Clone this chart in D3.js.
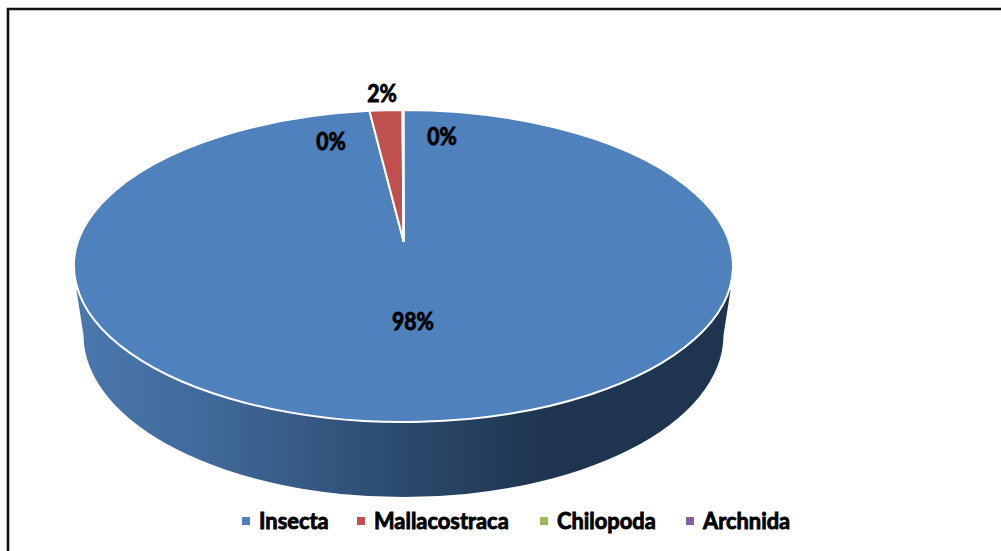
<!DOCTYPE html>
<html>
<head>
    <title>Pie chart</title>
    <script src="https://d3js.org/d3.v7.min.js"></script>
    <style>
        html, body { margin: 0; padding: 0; background: #fff; }
        svg { display: block; }
        text {
            font-family: Lato, "Open Sans", sans-serif;
            font-weight: 700;
            fill: #000;
            stroke: #000;
            stroke-width: 0.9px;
        }
    </style>
</head>
<body>
<div id="chart"></div>
<script>
    const categories = ['Insecta', 'Mallacostraca', 'Chilopoda', 'Archnida'];
    const shares = [98.35, 1.6, 0.025, 0.025];
    const labels = ['98%', '2%', '0%', '0%'];
    const colors = ['#4f81bd', '#c0504d', '#9bbb59', '#8064a2'];

    const width = 1001;
    const height = 551;

    // top face of the pie, the tip sits above the ellipse centre (perspective)
    const cx = 403.5, cy = 266, rx = 329.5, ry = 156;
    const tipY = 241;

    const svg = d3.select('#chart').append('svg')
        .attr('width', width)
        .attr('height', height);

    // frame, runs off the page right and bottom
    svg.append('path')
        .attr('d', `M8,${height}V9H${width}`)
        .attr('fill', 'none')
        .attr('stroke', '#111')
        .attr('stroke-width', 2.6);

    const gradient = svg.append('defs').append('linearGradient')
        .attr('id', 'sideFill')
        .attr('gradientUnits', 'userSpaceOnUse')
        .attr('x1', 77).attr('x2', 730)
        .attr('y1', 0).attr('y2', 0);
    [[0, '#4a78ad'], [0.2, '#40699a'], [0.5, '#2c4a6e'], [0.72, '#1f344e'], [1, '#1f344e']].forEach(s => {
        gradient.append('stop').attr('offset', s[0]).attr('stop-color', s[1]);
    });

    // side wall: starts where the rim is at y=290, ends on a smaller lower ellipse
    const rimY = 290;
    const rimDx = rx * Math.sqrt(1 - Math.pow((rimY - cy) / ry, 2));
    const botRx = 320, botRy = 162, botCy = 335;
    svg.append('path')
        .attr('d', `M${cx - rimDx - 1.5},${rimY}L${cx - botRx},${botCy}`
            + `A${botRx},${botRy} 0 0 0 ${cx + botRx},${botCy}`
            + `L${cx + rimDx + 1.5},${rimY}L${cx + rimDx},${rimY}`
            + `A${rx},${ry} 0 0 1 ${cx - rimDx},${rimY}Z`)
        .attr('fill', 'url(#sideFill)');

    const slices = d3.pie().sort(null)(shares);
    const color = d3.scaleOrdinal().domain(categories).range(colors);

    function rimPoint(a) {
        return [cx + rx * Math.sin(a), cy - ry * Math.cos(a)];
    }

    function wedge(d) {
        const p0 = rimPoint(d.startAngle);
        const p1 = rimPoint(d.endAngle);
        const large = d.endAngle - d.startAngle > Math.PI ? 1 : 0;
        return `M${cx},${tipY}L${p0[0]},${p0[1]}A${rx},${ry} 0 ${large} 1 ${p1[0]},${p1[1]}Z`;
    }

    svg.selectAll('path.slice')
        .data(slices)
        .join('path')
        .attr('class', 'slice')
        .attr('d', wedge)
        .attr('fill', (d, i) => color(categories[i]))
        .attr('stroke', '#fff')
        .attr('stroke-width', 2)
        .attr('stroke-linejoin', 'round');

    // data labels were placed by hand in the original
    const labelX = [413, 382, 442, 331];
    const labelY = [321, 93, 136, 141];
    svg.selectAll('text.pct')
        .data(labels)
        .join('text')
        .attr('class', 'pct')
        .attr('transform', (d, i) => `translate(${labelX[i]},${labelY[i]}) scale(0.88,1)`)
        .attr('text-anchor', 'middle')
        .attr('dominant-baseline', 'central')
        .style('font-size', '24px')
        .text(d => d);

    // legend
    const legendX = [242, 357, 540, 686];
    const legendY = 520;
    const legend = svg.selectAll('g.legend')
        .data(categories)
        .join('g')
        .attr('class', 'legend')
        .attr('transform', (d, i) => `translate(${legendX[i]},${legendY})`);
    legend.append('rect')
        .attr('x', 0).attr('y', -3)
        .attr('width', 8).attr('height', 8)
        .attr('fill', d => color(d));
    legend.append('text')
        .attr('transform', 'translate(17,0) scale(0.93,1)')
        .attr('dominant-baseline', 'central')
        .style('font-size', '23.5px')
        .text(d => d);
</script>
</body>
</html>
